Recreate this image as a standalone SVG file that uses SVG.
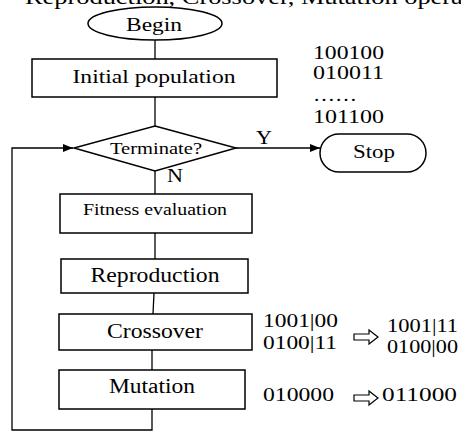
<svg xmlns="http://www.w3.org/2000/svg" width="461" height="431" viewBox="0 0 461 431" font-family="'Liberation Serif','Times New Roman',serif">
<style>
text{font-family:"Liberation Serif","Times New Roman",serif;fill:#000}
.s{fill:#fff;stroke:#000;stroke-width:1.5}
.c{fill:none;stroke:#000;stroke-width:1.3}
.m{text-anchor:middle}
.b{font-size:19px}
</style>
<defs>
<marker id="ah" markerWidth="10" markerHeight="8" refX="10" refY="4" orient="auto" markerUnits="userSpaceOnUse">
<path d="M0,0 L10,4 L0,8 Z" fill="#000"/>
</marker>
</defs>
<rect width="461" height="431" fill="#fff"/>
<text transform="translate(25,4) scale(1.2,1)" x="0" y="0" font-size="22">Reproduction, Crossover, Mutation operators</text>
<g id="connectors">
<line class="c" x1="155" y1="40" x2="155" y2="59"/>
<line class="c" x1="155" y1="97" x2="155" y2="126"/>
<line class="c" x1="155" y1="171" x2="155" y2="194"/>
<line class="c" x1="155" y1="233" x2="155" y2="259"/>
<line class="c" x1="154" y1="293" x2="153" y2="314"/>
<line class="c" x1="152" y1="350" x2="152" y2="370"/>
<line class="c" x1="236" y1="148" x2="320" y2="148" marker-end="url(#ah)"/>
<polyline class="c" points="152,409 152,430 12,430 12,148 73,148" marker-end="url(#ah)"/>
<text x="264" y="144" class="b m" textLength="16" lengthAdjust="spacingAndGlyphs">Y</text>
<text x="167" y="182" class="b" textLength="16" lengthAdjust="spacingAndGlyphs">N</text>
</g>
<g id="begin">
<ellipse class="s" cx="155" cy="23.5" rx="67" ry="16.5"/>
<text x="154" y="31" font-size="19" class="m" textLength="56" lengthAdjust="spacingAndGlyphs">Begin</text>
</g>
<g id="initial">
<rect class="s" x="32" y="59" width="245" height="38"/>
<text x="154" y="83" font-size="19" class="m" textLength="163" lengthAdjust="spacingAndGlyphs">Initial population</text>
</g>
<g id="terminate">
<polygon class="s" points="155,126 236,148 155,171 74,148"/>
<text x="156" y="154" font-size="16" class="m" textLength="92" lengthAdjust="spacingAndGlyphs">Terminate?</text>
</g>
<g id="stop">
<rect class="s" x="320" y="134" width="106" height="38" rx="19" ry="19"/>
<text x="374" y="158" class="b m" textLength="42" lengthAdjust="spacingAndGlyphs">Stop</text>
</g>
<g id="population">
<text x="313" y="59" class="b" textLength="71" lengthAdjust="spacingAndGlyphs">100100</text>
<text x="313" y="79" class="b" textLength="71" lengthAdjust="spacingAndGlyphs">010011</text>
<text x="313" y="101" class="b" textLength="44" lengthAdjust="spacingAndGlyphs">……</text>
<text x="313" y="123" class="b" textLength="71" lengthAdjust="spacingAndGlyphs">101100</text>
</g>
<g id="fitness">
<rect class="s" x="60" y="194" width="192" height="39"/>
<text x="155" y="215" font-size="16" class="m" textLength="144" lengthAdjust="spacingAndGlyphs">Fitness evaluation</text>
</g>
<g id="reproduction">
<rect class="s" x="61" y="259" width="187" height="34"/>
<text x="155" y="282" font-size="20" class="m" textLength="129" lengthAdjust="spacingAndGlyphs">Reproduction</text>
</g>
<g id="crossover">
<rect class="s" x="59" y="314" width="193" height="36"/>
<text x="155" y="338" font-size="20" class="m" textLength="96" lengthAdjust="spacingAndGlyphs">Crossover</text>
</g>
<g id="mutation">
<rect class="s" x="59" y="370" width="186" height="39"/>
<text x="152" y="393" font-size="20" class="m" textLength="86" lengthAdjust="spacingAndGlyphs">Mutation</text>
</g>
<g id="crossover-example">
<text x="263" y="327" class="b" textLength="75" lengthAdjust="spacingAndGlyphs">1001|00</text>
<text x="263" y="349" class="b" textLength="74" lengthAdjust="spacingAndGlyphs">0100|11</text>
<polygon points="354,334 369,334 369,330 378,337 369,344 369,340 354,340" fill="#fff" stroke="#000" stroke-width="1.2"/>
<text x="387" y="332" class="b" textLength="71" lengthAdjust="spacingAndGlyphs">1001|11</text>
<text x="387" y="353" class="b" textLength="71" lengthAdjust="spacingAndGlyphs">0100|00</text>
</g>
<g id="mutation-example">
<text x="263" y="401" class="b" textLength="71" lengthAdjust="spacingAndGlyphs">010000</text>
<polygon points="354,395 369,395 369,391 378,398 369,405 369,401 354,401" fill="#fff" stroke="#000" stroke-width="1.2"/>
<text x="382" y="401" class="b" textLength="75" lengthAdjust="spacingAndGlyphs">011000</text>
</g>
</svg>
